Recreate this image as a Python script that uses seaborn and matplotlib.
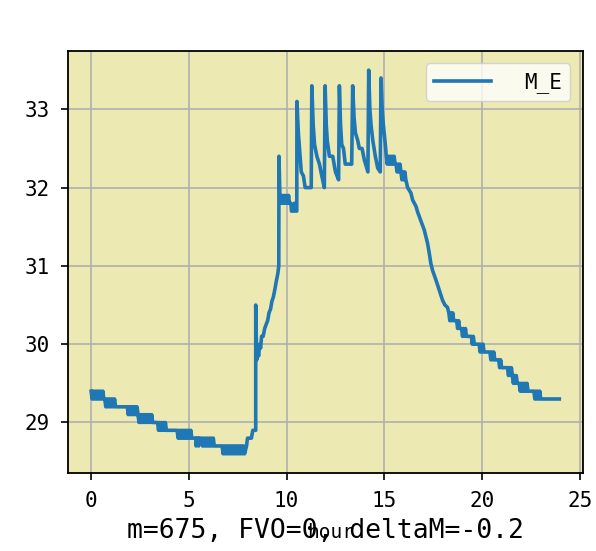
import matplotlib
matplotlib.use("Agg")
import matplotlib.pyplot as plt
import numpy as np
import pandas as pd
import seaborn as sns

# readings of M_E against hour of day, split by period
night_hours = [
    0.00, 0.05, 0.10, 0.15, 0.20, 0.25, 0.30, 0.35, 0.40, 0.45, 0.50, 0.55, 0.60, 0.65,
    0.70, 0.75, 0.80, 0.85, 0.90, 0.95, 1.00, 1.05, 1.10, 1.15, 1.20, 1.25, 1.85,
    1.90, 1.95, 2.00, 2.05, 2.10, 2.15, 2.20, 2.25, 2.30, 2.35, 2.40,
    2.45, 2.50, 2.55, 2.60, 2.65, 2.70, 2.75, 2.80, 2.85, 2.90, 2.95, 3.00, 3.05, 3.10, 3.15,
    3.40, 3.45, 3.50, 3.55, 3.60, 3.65, 3.70, 3.75, 3.80, 3.85, 4.40,
    4.45, 4.50, 4.55, 4.60, 4.65, 4.70, 4.75, 4.80, 4.85, 4.90, 4.95, 5.00, 5.05, 5.10, 5.15,
    5.35, 5.37, 5.40, 5.48, 5.50, 5.53, 5.65, 5.70, 5.75, 5.80, 5.85, 5.90, 5.95, 6.00,
    6.05, 6.10, 6.15, 6.20, 6.25, 6.30, 6.70,
    6.75, 6.80, 6.85, 6.90, 6.95, 7.00, 7.05, 7.10, 7.15, 7.20, 7.25, 7.30, 7.35, 7.40,
    7.45, 7.50, 7.55, 7.60, 7.65, 7.70, 7.75, 7.80, 7.85, 7.95, 8.00, 8.20, 8.27, 8.42,
]
night_vals = [
    29.4, 29.3, 29.4, 29.3, 29.4, 29.3, 29.4, 29.3, 29.4, 29.3, 29.4, 29.3, 29.4, 29.3,
    29.3, 29.2, 29.3, 29.2, 29.3, 29.2, 29.3, 29.2, 29.3, 29.2, 29.3, 29.2, 29.2,
    29.1, 29.2, 29.1, 29.2, 29.1, 29.2, 29.1, 29.2, 29.1, 29.2, 29.1,
    29.0, 29.1, 29.0, 29.1, 29.0, 29.1, 29.0, 29.1, 29.0, 29.1, 29.0, 29.1, 29.0, 29.1, 29.0,
    29.0, 28.9, 29.0, 28.9, 29.0, 28.9, 29.0, 28.9, 29.0, 28.9, 28.9,
    28.8, 28.9, 28.8, 28.9, 28.8, 28.9, 28.8, 28.9, 28.8, 28.9, 28.8, 28.9, 28.8, 28.9, 28.8,
    28.8, 28.7, 28.8, 28.8, 28.7, 28.8, 28.8, 28.7, 28.8, 28.7, 28.8, 28.7, 28.8, 28.7,
    28.8, 28.7, 28.8, 28.7, 28.8, 28.7, 28.7,
    28.6, 28.7, 28.6, 28.7, 28.6, 28.7, 28.6, 28.7, 28.6, 28.7, 28.6, 28.7, 28.6, 28.7,
    28.6, 28.7, 28.6, 28.7, 28.6, 28.7, 28.6, 28.7, 28.6, 28.7, 28.8, 28.8, 28.9, 28.9,
]

ramp_hours = [
    8.42, 8.47, 8.52, 8.57, 8.62, 8.67, 8.72, 8.80, 8.88, 8.95, 9.03, 9.10, 9.18, 9.25,
    9.32, 9.40, 9.47, 9.55, 9.60, 9.61, 9.66, 9.70, 9.75, 9.80, 9.85, 9.90, 9.95, 10.00,
    10.05, 10.10, 10.15, 10.22, 10.25, 10.35, 10.40, 10.45, 10.52,
]
ramp_vals = [
    30.5, 29.8, 29.9, 29.85, 30.0, 29.95, 30.1, 30.1, 30.2, 30.25, 30.3, 30.4, 30.45, 30.55,
    30.6, 30.7, 30.8, 30.9, 31.0, 32.4, 31.85, 31.9, 31.8, 31.9, 31.8, 31.9, 31.8, 31.9,
    31.8, 31.9, 31.8, 31.8, 31.7, 31.7, 31.8, 31.7, 31.7,
]

peak_hours = [
    10.53, 10.60, 10.66, 10.75, 10.86, 10.95, 11.26,
    11.29, 11.36, 11.43, 11.55, 11.68, 11.80, 11.93,
    11.97, 12.03, 12.08, 12.19, 12.36, 12.50, 12.66,
    12.70, 12.76, 12.82, 12.91, 13.00, 13.33,
    13.38, 13.45, 13.52, 13.64, 13.72, 13.86, 13.98, 14.16,
    14.20, 14.26, 14.32, 14.41, 14.54, 14.66, 14.79,
    14.83, 14.89, 14.95, 15.05,
]
peak_vals = [
    33.1, 32.7, 32.5, 32.2, 32.15, 32.0, 32.0,
    33.3, 32.8, 32.55, 32.4, 32.3, 32.15, 32.0,
    33.3, 32.8, 32.6, 32.4, 32.4, 32.2, 32.1,
    33.3, 32.8, 32.55, 32.5, 32.3, 32.3,
    33.3, 32.9, 32.7, 32.6, 32.5, 32.5, 32.35, 32.2,
    33.5, 33.0, 32.8, 32.6, 32.4, 32.25, 32.2,
    33.4, 33.0, 32.8, 32.55,
]

evening_hours = [
    15.10, 15.15, 15.20, 15.25, 15.30, 15.35, 15.40, 15.45, 15.50, 15.55, 15.60,
    15.65, 15.70, 15.75, 15.80, 15.85, 15.90, 15.95, 16.00, 16.05, 16.10,
    16.19, 16.36, 16.45, 16.62, 16.70, 16.79, 16.92, 17.04, 17.13, 17.21, 17.30,
    17.38, 17.47, 17.64, 17.81, 17.98, 18.10, 18.23,
    18.30, 18.35, 18.40, 18.45, 18.50, 18.55, 18.70, 18.75, 18.80, 18.85, 18.95,
    19.00, 19.05, 19.10, 19.15, 19.20, 19.45, 19.50, 19.55, 19.60, 19.85,
    19.90, 19.95, 20.00, 20.05, 20.10, 20.40, 20.45, 20.50, 20.55, 20.60, 20.65,
    20.85, 20.90, 20.95, 21.00, 21.30, 21.35, 21.40, 21.45, 21.50, 21.55,
    21.60, 21.65, 21.70, 21.75, 21.80, 21.90, 21.95, 22.00, 22.05, 22.10, 22.15,
    22.20, 22.25, 22.30, 22.35, 22.65, 22.70, 22.75, 22.80, 22.85, 22.90, 22.95,
    23.00, 23.05, 23.95,
]
evening_vals = [
    32.4, 32.3, 32.4, 32.3, 32.4, 32.3, 32.4, 32.3, 32.4, 32.3, 32.3,
    32.2, 32.3, 32.2, 32.3, 32.2, 32.1, 32.2, 32.1, 32.2, 32.1,
    32.0, 31.93, 31.84, 31.76, 31.69, 31.63, 31.54, 31.46, 31.37, 31.29, 31.16,
    31.03, 30.94, 30.82, 30.69, 30.56, 30.5, 30.47,
    30.4, 30.3, 30.4, 30.3, 30.4, 30.3, 30.3, 30.2, 30.3, 30.2, 30.2,
    30.1, 30.2, 30.1, 30.2, 30.1, 30.1, 30.0, 30.1, 30.0, 30.0,
    29.9, 30.0, 29.9, 30.0, 29.9, 29.9, 29.8, 29.9, 29.8, 29.9, 29.8,
    29.8, 29.7, 29.8, 29.7, 29.7, 29.6, 29.7, 29.6, 29.7, 29.6,
    29.5, 29.6, 29.5, 29.6, 29.5, 29.5, 29.4, 29.5, 29.4, 29.5, 29.4,
    29.5, 29.4, 29.5, 29.4, 29.4, 29.3, 29.4, 29.3, 29.4, 29.3, 29.4,
    29.3, 29.3, 29.3,
]

note = "m=675, FVO=0, deltaM=-0.2"

df = pd.DataFrame({
    "hour": np.concatenate([night_hours, ramp_hours, peak_hours, evening_hours]),
    "M_E": np.concatenate([night_vals, ramp_vals, peak_vals, evening_vals]),
})

plt.rcParams["font.family"] = ["DejaVu Sans Mono"]

fig = plt.figure(figsize=(5.96, 5.51), dpi=100)
ax = fig.add_axes([0.1136, 0.1416, 0.8641, 0.7659])
ax.set_facecolor("#ece9b3")

sns.lineplot(
    data=df, x="hour", y="M_E", ax=ax,
    estimator=None, sort=False,
    color="#1f77b4", linewidth=2.6, label="M_E",
)

ax.grid(True, color="#b0b0b0", linewidth=1.2)
for spine in ax.spines.values():
    spine.set_linewidth(1.3)
ax.tick_params(axis="both", labelsize=15, length=5, width=1.2)
ax.tick_params(axis="x", pad=8)
ax.tick_params(axis="y", pad=8)
ax.set_ylabel("")

ax.set_xlabel("hour", fontsize=14)
ax.xaxis.label.set_va("baseline")
ax.xaxis.set_label_coords(0.51, -0.154)

ax.text(0.5, -0.154, note, transform=ax.transAxes, ha="center",
        va="baseline", fontsize=19)

ax.legend(loc="upper right", fontsize=15, handlelength=2.7,
          handletextpad=1.6, borderaxespad=0.6)

fig.savefig("out.png", dpi=100)
